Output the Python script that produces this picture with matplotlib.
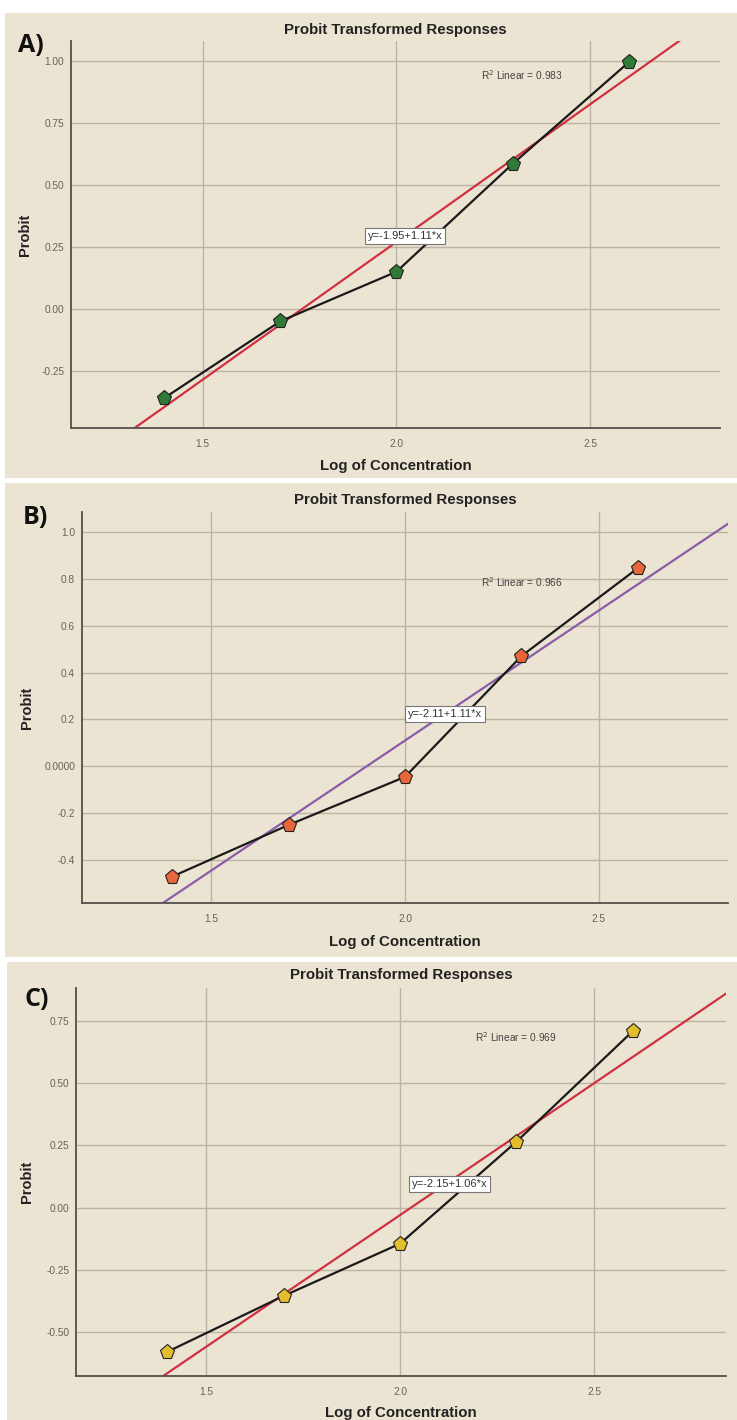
import matplotlib
matplotlib.use("Agg")
import matplotlib.pyplot as plt
from matplotlib.patches import Rectangle

# ---- data ----
log_conc = [1.4, 1.7, 2.0, 2.3, 2.6]
probit_A = [-0.36, -0.05, 0.15, 0.585, 0.995]
probit_B = [-0.47, -0.25, -0.045, 0.47, 0.845]
probit_C = [-0.58, -0.355, -0.145, 0.265, 0.71]
fit_A = (-1.95, 1.11)
fit_B = (-2.11, 1.11)
fit_C = (-2.15, 1.06)
r2_A, r2_B, r2_C = "0.983", "0.966", "0.969"
x_ticks = [1.5, 2.0, 2.5]
x_ticklabels = ["1.5", "2.0", "2.5"]
yticks_A = [-0.25, 0.0, 0.25, 0.5, 0.75, 1.0]
ylabels_A = ["-0.25", "0.00", "0.25", "0.50", "0.75", "1.00"]
yticks_B = [-0.4, -0.2, 0.0, 0.2, 0.4, 0.6, 0.8, 1.0]
ylabels_B = ["-0.4", "-0.2", "0.0000", "0.2", "0.4", "0.6", "0.8", "1.0"]
yticks_C = [-0.5, -0.25, 0.0, 0.25, 0.5, 0.75]
ylabels_C = ["-0.50", "-0.25", "0.00", "0.25", "0.50", "0.75"]

W, H = 737, 1420
BG = "#ECE4D2"
GRID = "#BBB4A6"
SPINE = "#54504A"
plt.rcParams['font.family'] = ['Liberation Sans', 'DejaVu Sans']

fig = plt.figure(figsize=(W / 100, H / 100), dpi=100)
fig.patch.set_facecolor("white")


def fx(px):
    return px / W


def fy(py):
    return 1 - py / H


panels = [
    dict(bg=(5, 13, 737, 478), ax=(71, 41, 720, 428), y=probit_A, fit=fit_A, r2=r2_A,
         mc="#2F7A35", lc="#D03040", xlim=(1.16, 2.835), ylim=(-0.48, 1.08),
         yt=yticks_A, yl=ylabels_A, r2pos=(0.695, 0.912), eqpos=(0.515, 0.496),
         letter="A)", letpos=(31, 46), title_y=30, xlab_y=466, ylab_x=25),
    dict(bg=(5, 483, 737, 957), ax=(82, 512, 728, 903), y=probit_B, fit=fit_B, r2=r2_B,
         mc="#E8663A", lc="#8A5CA8", xlim=(1.167, 2.833), ylim=(-0.583, 1.085),
         yt=yticks_B, yl=ylabels_B, r2pos=(0.681, 0.821), eqpos=(0.562, 0.483),
         letter="B)", letpos=(35, 518), title_y=500, xlab_y=942, ylab_x=27),
    dict(bg=(7, 962, 737, 1420), ax=(76, 988, 726, 1376), y=probit_C, fit=fit_C, r2=r2_C,
         mc="#E2BE2E", lc="#D03040", xlim=(1.165, 2.84), ylim=(-0.677, 0.883),
         yt=yticks_C, yl=ylabels_C, r2pos=(0.677, 0.874), eqpos=(0.575, 0.495),
         letter="C)", letpos=(37, 1000), title_y=975, xlab_y=1413, ylab_x=27),
]

for p in panels:
    x0, y0, x1, y1 = p["bg"]
    fig.patches.append(Rectangle((fx(x0), fy(y1)), fx(x1 - x0), (y1 - y0) / H,
                                 transform=fig.transFigure, facecolor=BG,
                                 edgecolor="none", zorder=-10))
    l, t, r, b = p["ax"]
    ax = fig.add_axes([fx(l), fy(b), fx(r - l), (b - t) / H])
    ax.set_zorder(1)
    ax.set_facecolor(BG)
    ax.set_xlim(*p["xlim"])
    ax.set_ylim(*p["ylim"])
    ax.set_xticks(x_ticks)
    ax.set_xticklabels(x_ticklabels)
    ax.set_yticks(p["yt"])
    ax.set_yticklabels(p["yl"])
    ax.tick_params(length=0, labelsize=7.3, colors="#66625B")
    ax.tick_params(axis="x", pad=8)
    ax.tick_params(axis="y", pad=5)
    for s in ["top", "right"]:
        ax.spines[s].set_visible(False)
    for s in ["left", "bottom"]:
        ax.spines[s].set_color(SPINE)
        ax.spines[s].set_linewidth(1.3)
    ax.grid(True, color=GRID, linewidth=1.0)
    ax.set_axisbelow(True)

    b0, m = p["fit"]
    ax.axline((0, b0), slope=m, color=p["lc"], linewidth=1.6, zorder=2)
    ax.plot(log_conc, p["y"], color="#1A1A1A", linewidth=1.6, zorder=3)
    ax.plot(log_conc, p["y"], linestyle="none", marker="p", markersize=11,
            markerfacecolor=p["mc"], markeredgecolor="#222222",
            markeredgewidth=0.8, zorder=4)

    ax.text(*p["r2pos"], "R$^2$ Linear = " + p["r2"], transform=ax.transAxes,
            ha="center", va="center", fontsize=7.3, color="#444444")
    ax.text(*p["eqpos"], f"y={b0:.2f}+{m:.2f}*x", transform=ax.transAxes,
            ha="center", va="center", fontsize=8, color="#333333",
            bbox=dict(boxstyle="square,pad=0.25", facecolor="white",
                      edgecolor="#777777", linewidth=0.8), zorder=5)

    cx = (l + r) / 2
    fig.text(fx(cx), fy(p["title_y"]), "Probit Transformed Responses",
             ha="center", va="center", fontsize=10.8, fontweight="bold", color="#222222")
    fig.text(fx(cx), fy(p["xlab_y"]), "Log of Concentration",
             ha="center", va="center", fontsize=10.8, fontweight="bold", color="#222222")
    fig.text(fx(p["ylab_x"]), fy((t + b) / 2), "Probit", rotation=90,
             ha="center", va="center", fontsize=10.5, fontweight="bold", color="#222222")
    fig.text(fx(p["letpos"][0]), fy(p["letpos"][1]), p["letter"],
             ha="center", va="center", fontsize=18, fontweight="bold",
             color="#111111", family=["Open Sans", "DejaVu Sans"])

fig.savefig("out.png", dpi=100, facecolor="white")
